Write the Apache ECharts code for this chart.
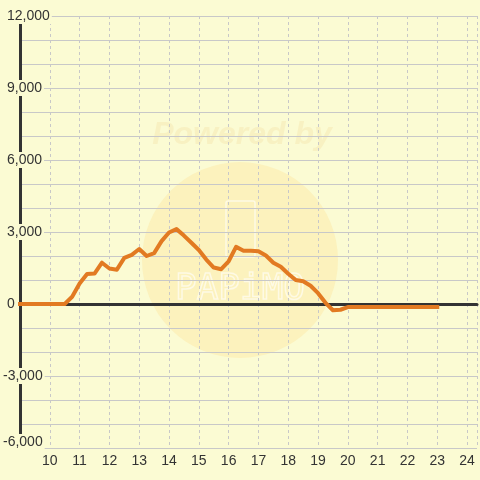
<!DOCTYPE html>
<html><head><meta charset="utf-8">
<script src="https://cdn.jsdelivr.net/npm/echarts@6/dist/echarts.min.js"></script>
<style>html,body{margin:0;padding:0;background:#fbfbd3}#c{width:480px;height:480px}</style>
</head><body><div id="c"></div>
<script>
// time of day (hours), 15-minute steps
const hours = [9,9.25,9.5,9.75,10,10.25,10.5,10.75,11,11.25,11.5,11.75,12,12.25,12.5,12.75,13,13.25,13.5,13.75,14,14.25,14.5,14.75,15,15.25,15.5,15.75,16,16.25,16.5,16.75,17,17.25,17.5,17.75,18,18.25,18.5,18.75,19,19.25,19.5,19.75,20,20.25,20.5,20.75,21,21.25,21.5,21.75,22,22.25,22.5,22.75,23];
const values = [0,0,0,0,0,0,0,300,850,1250,1270,1720,1480,1430,1920,2050,2290,2000,2120,2620,2980,3120,2850,2550,2250,1850,1520,1450,1780,2380,2220,2220,2200,2020,1720,1550,1260,1000,950,760,450,50,-260,-240,-130,-130,-130,-130,-130,-130,-130,-130,-130,-130,-130,-130,-130];
const xTickLabels = [10,11,12,13,14,15,16,17,18,19,20,21,22,23,24];
const yTickLabels = [-6000,-3000,0,3000,6000,9000,12000];

const BG = '#fbfbd3';
const FONT = '"Liberation Sans", sans-serif';
const chart = echarts.init(document.getElementById('c'), null, {renderer:'canvas'});
const fmtNum = v => v.toLocaleString('en-US');
chart.setOption({
  animation: false,
  backgroundColor: BG,
  grid: {left: 20, right: 0, top: 16, bottom: 32},
  graphic: [
    {type:'circle', z:-10, shape:{cx:240, cy:260, r:98}, style:{fill:'#fcf2bd'}},
    {type:'text', z:-10, x:242, y:135, style:{text:'Powered by', font:'italic bold 32px "Liberation Sans", sans-serif', fill:'#f8f1c2', align:'center', verticalAlign:'middle'}},
    {type:'rect', z:-9, shape:{x:226, y:201, width:29, height:56, r:2}, style:{fill:'none', stroke:'rgba(255,255,255,0.6)', lineWidth:1.5}},
    {type:'text', z:-9, x:240, y:290, style:{text:'PAPiMO', font:'36px "DejaVu Sans Mono", monospace', fill:'none', stroke:'rgba(255,255,255,0.6)', lineWidth:1.5, align:'center', verticalAlign:'middle'}}
  ],
  xAxis: [{
    type: 'value', min: 9, max: 24 + 1/3, interval: 1, position: 'bottom',
    axisLine: {show: false, onZero: false},
    axisTick: {show: false},
    axisLabel: {color: '#333', fontSize: 14, margin: 6, fontFamily: FONT,
      formatter: v => xTickLabels.includes(v) ? String(v) : ''},
    splitLine: {show: true, lineStyle: {color: '#c8c8c8', type: [3, 3], width: 1}}
  }, {
    type: 'value', min: 9, max: 24 + 1/3, interval: 1, position: 'top',
    axisLine: {show: true, onZero: true, lineStyle: {color: '#333', width: 3}},
    axisTick: {show: false}, axisLabel: {show: false}, splitLine: {show: false}
  }],
  yAxis: {
    type: 'value', min: -6000, max: 12000, interval: 1000,
    axisLine: {show: true, onZero: false, lineStyle: {color: '#333', width: 3}},
    axisTick: {show: false},
    axisLabel: {color: '#333', fontSize: 14, align: 'left', margin: 17, fontFamily: FONT,
      backgroundColor: BG, padding: [1, 2, 1, 0],
      rich: {
        p: {color: '#333', fontSize: 14, fontFamily: FONT, padding: [0, 0, 0, 4]},
        n: {color: '#333', fontSize: 14, fontFamily: FONT},
        b: {color: '#333', fontSize: 14, fontFamily: FONT, padding: [0, 0, 12, 0]}
      },
      formatter: v => {
        if (!yTickLabels.includes(v)) return '';
        const s = fmtNum(v);
        if (v === yTickLabels[0]) return '{b|' + s + '}';
        return v < 0 ? '{n|' + s + '}' : '{p|' + s + '}';
      }},
    splitLine: {show: true, lineStyle: {color: '#c8c8c8', width: 1}}
  },
  series: [{
    type: 'line', xAxisIndex: 0, z: 3,
    data: hours.map((h, i) => [h, values[i]]),
    showSymbol: false, symbol: 'none',
    lineStyle: {color: '#e27a22', width: 4, join: 'round', cap: 'square'},
    itemStyle: {color: '#e27a22'}
  }]
});
</script></body></html>
